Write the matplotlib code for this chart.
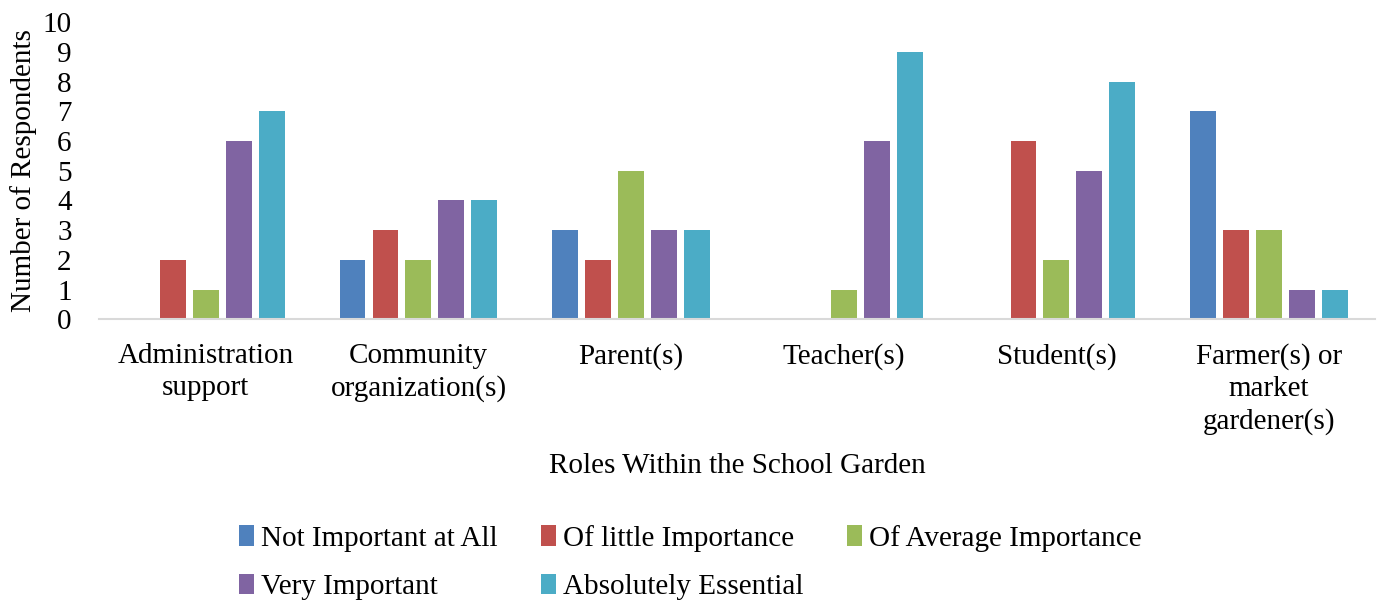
import numpy as np
import matplotlib.pyplot as plt

plt.rcParams['font.family'] = ['Liberation Serif', 'DejaVu Serif']

# Roles and responses
roles = ['Administration\nsupport', 'Community\norganization(s)', 'Parent(s)',
         'Teacher(s)', 'Student(s)', 'Farmer(s) or\nmarket\ngardener(s)']
series = ['Not Important at All', 'Of little Importance', 'Of Average Importance',
          'Very Important', 'Absolutely Essential']
not_important = [0, 2, 3, 0, 0, 7]
little = [2, 3, 2, 0, 6, 3]
average = [1, 2, 5, 1, 2, 3]
very = [6, 4, 3, 6, 5, 1]
essential = [7, 4, 3, 9, 8, 1]
colors = ['#4F81BD', '#C0504D', '#9BBB59', '#8064A2', '#4BACC6']

values = [not_important, little, average, very, essential]

fig = plt.figure(figsize=(13.81, 6), dpi=100)
ax = fig.add_axes([0.072, 0.468, 0.924, 0.495])

x = np.arange(len(roles))
pitch = 0.155
w = 0.122
for i, (vals, c, name) in enumerate(zip(values, colors, series)):
    ax.bar(x + (i - 2) * pitch, vals, w, color=c, label=name)

ax.set_xlim(-0.5, 5.5)
ax.set_ylim(0, 10)
ax.set_yticks(range(0, 11))
ax.set_xticks(x)
ax.set_xticklabels(roles, linespacing=1.3)
ax.tick_params(length=0, labelsize=21)
ax.tick_params(axis='x', pad=17)
ax.tick_params(axis='y', pad=20)
for s in ['top', 'right', 'left']:
    ax.spines[s].set_visible(False)
ax.spines['bottom'].set_color('#D9D9D9')
ax.spines['bottom'].set_linewidth(1.5)

ax.set_ylabel('Number of Respondents', fontsize=21, labelpad=4)
ax.set_xlabel('Roles Within the School Garden', fontsize=21, labelpad=13)

# row-major legend order like the original
h, l = ax.get_legend_handles_labels()
order = [0, 3, 1, 4, 2]
fig.legend([h[k] for k in order], [l[k] for k in order],
           loc='upper center', bbox_to_anchor=(0.5, 0.145), ncol=3, frameon=False,
           fontsize=21, handlelength=0.5, handleheight=0.7, handletextpad=0.25,
           columnspacing=1.5, labelspacing=0.75, borderaxespad=0)

fig.savefig('out.png', dpi=100)
